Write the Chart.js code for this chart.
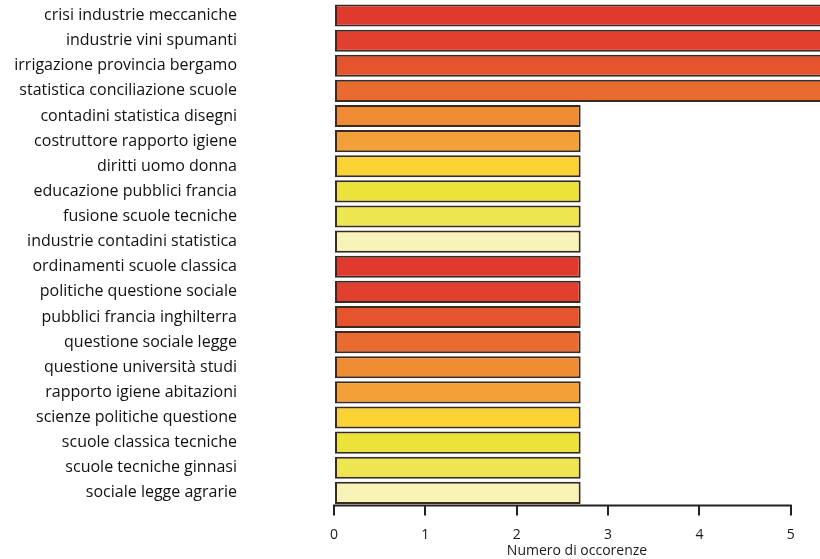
<!DOCTYPE html>
<html>
<head>
<meta charset="utf-8">
<script src="https://cdn.jsdelivr.net/npm/chart.js@4/dist/chart.umd.min.js"></script>
<style>
  html, body { margin: 0; padding: 0; background: #fff; }
  #wrap { width: 820px; height: 559px; }
</style>
</head>
<body>
<div id="wrap"><canvas id="myChart"></canvas></div>
<script>
const categories = [
    "crisi industrie meccaniche",
    "industrie vini spumanti",
    "irrigazione provincia bergamo",
    "statistica conciliazione scuole",
    "contadini statistica disegni",
    "costruttore rapporto igiene",
    "diritti uomo donna",
    "educazione pubblici francia",
    "fusione scuole tecniche",
    "industrie contadini statistica",
    "ordinamenti scuole classica",
    "politiche questione sociale",
    "pubblici francia inghilterra",
    "questione sociale legge",
    "questione università studi",
    "rapporto igiene abitazioni",
    "scienze politiche questione",
    "scuole classica tecniche",
    "scuole tecniche ginnasi",
    "sociale legge agrarie",
];
// first four bars run off the right edge of the picture
const occorrenze = [6, 6, 6, 6, 2.7, 2.7, 2.7, 2.7, 2.7, 2.7, 2.7, 2.7, 2.7, 2.7, 2.7, 2.7, 2.7, 2.7, 2.7, 2.7];
const xTicks = [0, 1, 2, 3, 4, 5];
const palette = ["#e0392e", "#e2402f", "#e5542c", "#ea6b2f", "#ee8b33", "#f3a038", "#fad233", "#ebe23a", "#eee650", "#f8f3b6"];

// axis line only from 0 to 5, like the original
const axisLine = {
    id: "axisLine",
    afterDraw(chart) {
        const x = chart.scales.x;
        const c = chart.ctx;
        c.save();
        c.strokeStyle = "#222";
        c.lineWidth = 2;
        c.beginPath();
        c.moveTo(x.getPixelForValue(xTicks[0]) - 1, x.top);
        c.lineTo(x.getPixelForValue(xTicks[xTicks.length - 1]) + 1, x.top);
        c.stroke();
        c.restore();
    },
};

const ctx = document.getElementById("myChart");
new Chart(ctx, {
    type: "bar",
    data: {
        labels: categories,
        datasets: [
            {
                label: "Numero di occorenze",
                data: occorrenze,
                backgroundColor: categories.map((_, i) => palette[i % palette.length]),
                borderColor: "#3a2b22",
                borderWidth: 2,
                borderSkipped: false,
                barPercentage: 0.88,
                categoryPercentage: 1,
            },
        ],
    },
    options: {
        indexAxis: "y",
        responsive: true,
        maintainAspectRatio: false,
        animation: false,
        layout: { padding: { top: 3, right: 0, bottom: 0, left: 0 } },
        plugins: {
            legend: { display: false },
            tooltip: { enabled: false },
        },
        scales: {
            x: {
                min: 0,
                max: 5.32,
                afterBuildTicks(scale) {
                    scale.ticks = xTicks.map((v) => ({ value: v }));
                },
                grid: {
                    display: true,
                    drawOnChartArea: false,
                    drawTicks: true,
                    tickLength: 10,
                    color: "#222",
                    lineWidth: 2,
                },
                border: { display: false },
                ticks: {
                    color: "#1a1a1a",
                    font: { family: "Open Sans", size: 14 },
                    padding: 11,
                    maxRotation: 0,
                },
                title: {
                    display: true,
                    text: "Numero di occorenze",
                    color: "#1a1a1a",
                    font: { family: "Open Sans", size: 14 },
                    padding: { top: -12, bottom: 0 },
                },
            },
            y: {
                afterFit(scale) {
                    scale.width = 334;
                    scale.paddingTop = 0;
                    scale.paddingBottom = 0;
                },
                grid: { display: false },
                border: { display: false },
                ticks: {
                    color: "#111",
                    font: { family: "Open Sans", size: 16 },
                    padding: 89,
                    autoSkip: false,
                },
            },
        },
    },
    plugins: [axisLine],
});
</script>
</body>
</html>
